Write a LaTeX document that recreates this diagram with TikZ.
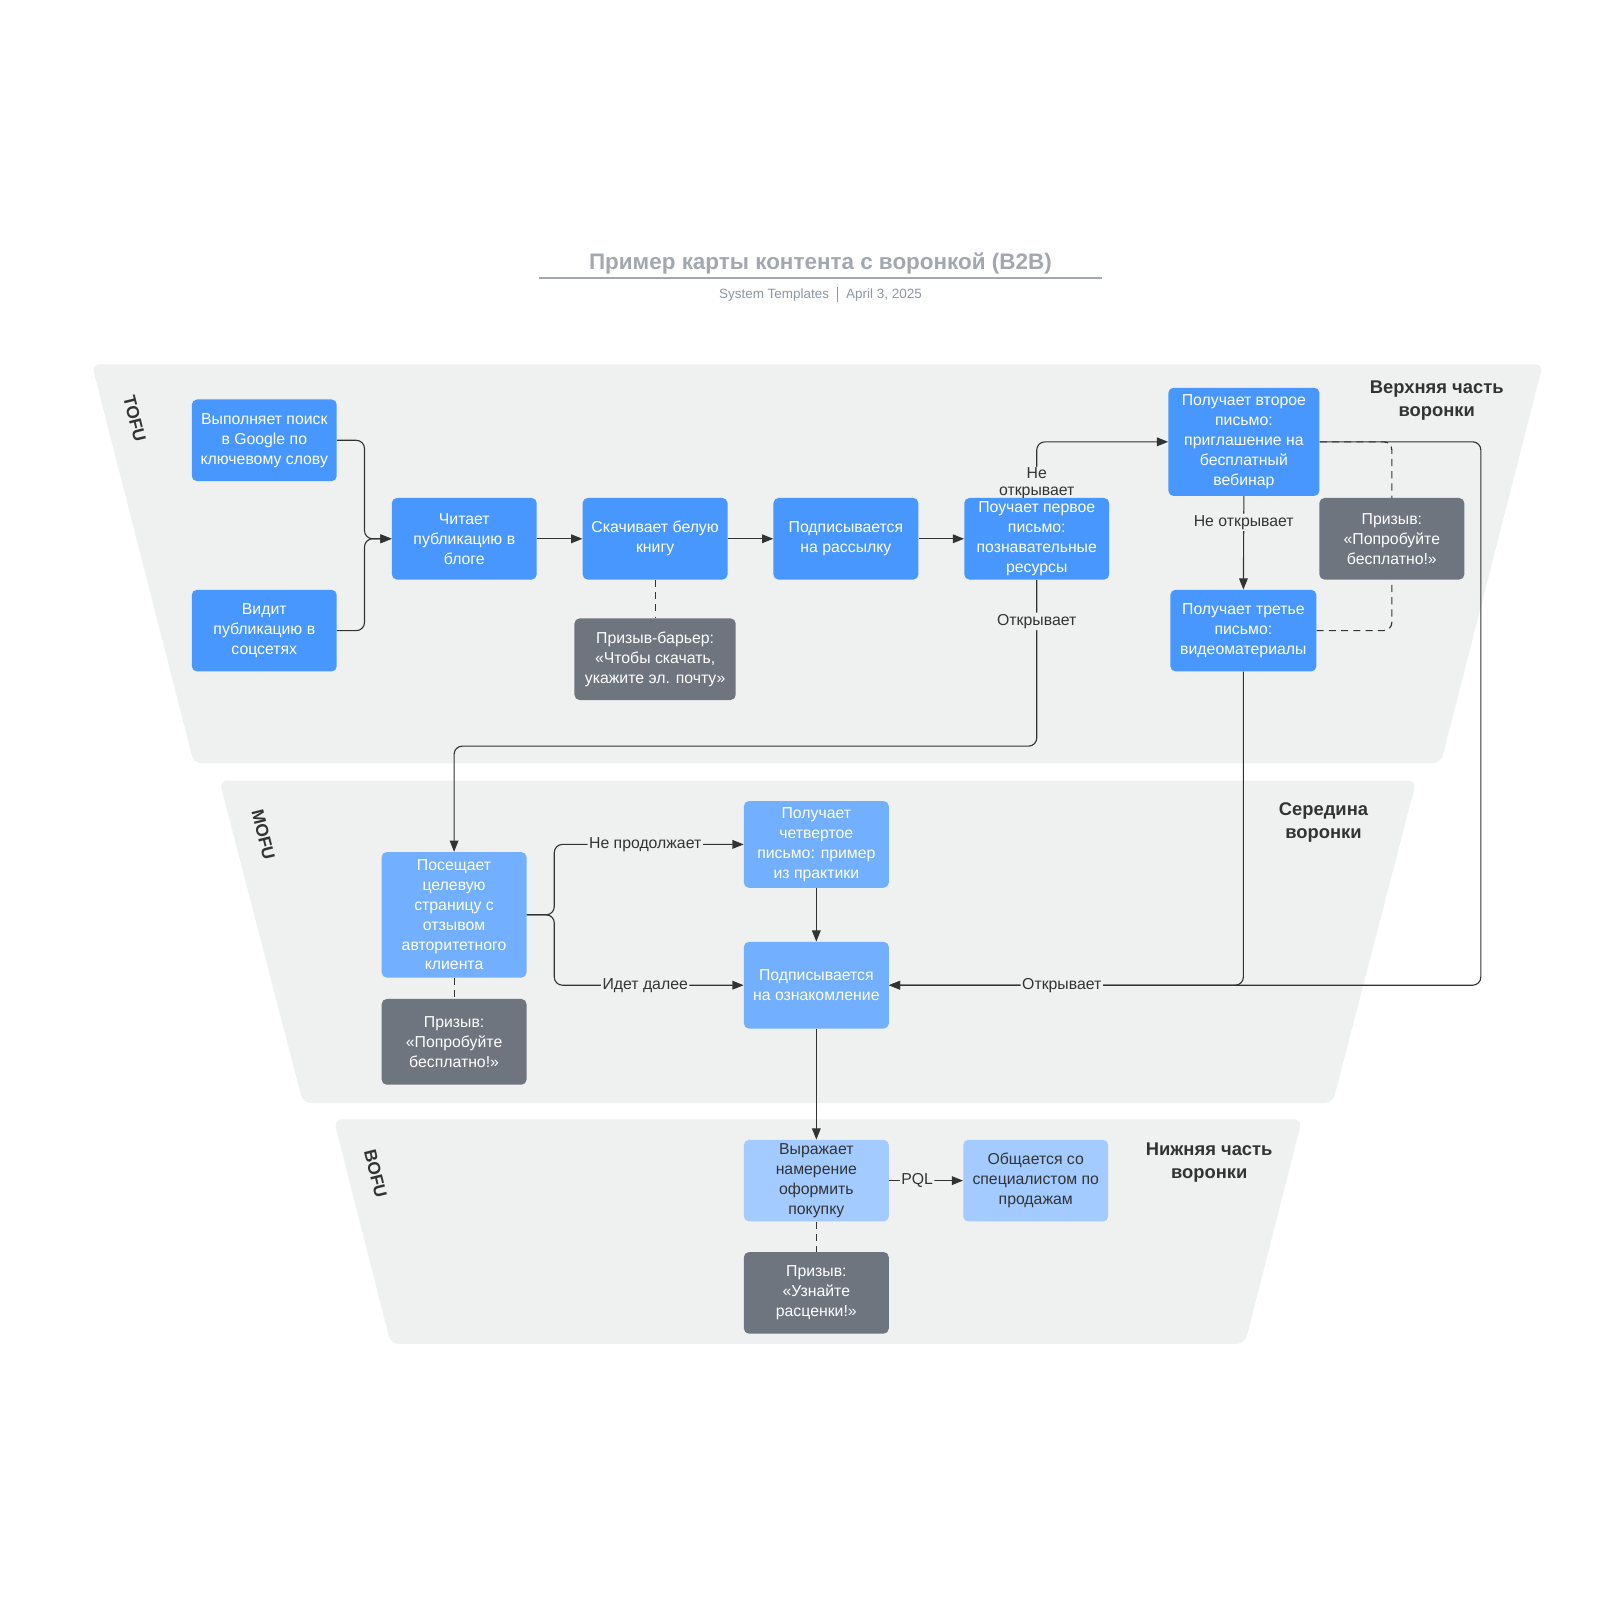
\documentclass[tikz,border=0pt]{standalone}
\usepackage{fontspec}
\setmainfont{Liberation Sans}
\usetikzlibrary{arrows.meta}
\definecolor{panel}{HTML}{EFF0F0}
\definecolor{blueA}{HTML}{4797FF}
\definecolor{blueB}{HTML}{72AFFF}
\definecolor{blueC}{HTML}{A3CBFF}
\definecolor{grayBox}{HTML}{6E757F}
\definecolor{ink}{HTML}{333333}
\definecolor{titlegray}{HTML}{A3A8B0}
\definecolor{subgray}{HTML}{8F97A1}
\pgfdeclarelayer{bg}
\pgfdeclarelayer{edges}
\pgfsetlayers{bg,edges,main}
\begin{document}
\begin{tikzpicture}[x=1pt,y=-1pt,
  box/.style={rounded corners=5pt, minimum width=142pt, minimum height=80pt, inner sep=0pt, align=center, font=\fontsize{15.5}{19.5}\selectfont, text=white},
  boxA/.style={box, fill=blueA},
  boxB/.style={box, fill=blueB},
  boxC/.style={box, fill=blueC, text=ink},
  cta/.style={box, fill=grayBox},
  conn/.style={draw=ink, line width=1.1pt, rounded corners=8pt, -{Triangle[length=11pt,width=8.5pt]}},
  dline/.style={draw=ink, line width=1.1pt, dash pattern=on 7pt off 5pt, rounded corners=8pt},
  lbl/.style={fill=panel, inner sep=1.5pt, text=ink, font=\fontsize{15.5}{17}\selectfont, align=center},
  stage/.style={font=\bfseries\fontsize{18}{22.5}\selectfont, text=ink, align=center},
  tag/.style={font=\bfseries\fontsize{17}{20}\selectfont, text=ink, rotate=-76},
  panelbg/.style={fill=panel, rounded corners=8pt}
]
\begin{pgfonlayer}{bg}
\fill[white] (0,0) rectangle (1568,1568);
\path[panelbg] (90,357) -- (1512,357) -- (1412,748) -- (190,748) -- cycle;
\path[panelbg] (215,765) -- (1388,765) -- (1306,1081) -- (297,1081) -- cycle;
\path[panelbg] (327,1097) -- (1276,1097) -- (1220,1317) -- (383,1317) -- cycle;
\end{pgfonlayer}
\useasboundingbox (0,0) rectangle (1568,1568);

% title
\node[font=\bfseries\fontsize{22}{25}\selectfont, text=titlegray] (title) at (804,258) {Пример карты контента с воронкой (B2B)};
\draw[titlegray, line width=2pt] (528,272) -- (1080,272);
\node[font=\fontsize{13.2}{15}\selectfont, text=subgray] (sub) at (804,288.5) {System Templates\hspace{8pt}\rule[-3pt]{0.7pt}{14pt}\hspace{8pt}April 3, 2025};

\node[tag] (tofu) at (132,410) {TOFU};
\node[tag] (mofu) at (258,818) {MOFU};
\node[tag] (bofu) at (368,1150) {BOFU};

\node[stage] (h1) at (1408,393) {Верхняя часть\\воронки};
\node[stage] (h2) at (1297,806) {Середина\\воронки};
\node[stage] (h3) at (1185,1139) {Нижняя часть\\воронки};

% TOFU boxes
\node[boxA] (b1) at (259,431.5) {Выполняет поиск\\в Google по\\ключевому слову};
\node[boxA] (b2) at (259,618) {Видит\\публикацию в\\соцсетях};
\node[boxA] (b3) at (455,528) {Читает\\публикацию в\\блоге};
\node[boxA] (b4) at (642,528) {\raisebox{3pt}{\begin{tabular}{@{}c@{}}Скачивает белую\\книгу\end{tabular}}};
\node[boxA] (b5) at (829,528) {\raisebox{3pt}{\begin{tabular}{@{}c@{}}Подписывается\\на рассылку\end{tabular}}};
\node[boxA] (b6) at (1016,528) {Поучает первое\\письмо:\\познавательные\\ресурсы};
\node[cta, minimum width=158pt] (g1) at (642,646) {Призыв-барьер:\\«Чтобы скачать,\\укажите эл. почту»};
\node[boxA, minimum width=148pt, minimum height=106pt] (b7) at (1219,433) {Получает второе\\письмо:\\приглашение на\\бесплатный\\вебинар};
\node[boxA, minimum width=143pt] (b8) at (1218.5,618) {Получает третье\\письмо:\\видеоматериалы};
\node[cta] (g2) at (1364,528) {Призыв:\\«Попробуйте\\бесплатно!»};

% MOFU boxes
\node[boxB, minimum height=123pt] (m1) at (445,896.5) {Посещает\\целевую\\страницу с\\отзывом\\авторитетного\\клиента};
\node[cta, minimum height=84pt] (g3) at (445,1021) {Призыв:\\«Попробуйте\\бесплатно!»};
\node[boxB, minimum height=85pt] (m2) at (800,827.5) {Получает\\четвертое\\письмо: пример\\из практики};
\node[boxB, minimum height=85pt] (m3) at (800,965.5) {Подписывается\\на ознакомление};

% BOFU boxes
\node[boxC] (f1) at (800,1157) {Выражает\\намерение\\оформить\\покупку};
\node[boxC] (f2) at (1015,1157) {Общается со\\специалистом по\\продажам};
\node[cta] (g4) at (800,1267) {Призыв:\\«Узнайте\\расценки!»};

\begin{pgfonlayer}{edges}
% connectors TOFU
\draw[conn] (b1.east) -- ++(27,0) |- (b3.west);
\draw[conn] (b2.east) -- ++(27,0) |- (b3.west);
\draw[conn] (b3) -- (b4);
\draw[conn] (b4) -- (b5);
\draw[conn] (b5) -- (b6);
\draw[dline] (b4.south) -- (g1.north);
\draw[conn] (b6.north) |- node[lbl, pos=0.13, inner sep=0.5pt] {Не\\открывает} (b7.west);
\draw[conn] (b6.south) -- node[lbl, pos=0.25] {Открывает} ++(0,163) -| (m1.north);
\draw[conn] (b7.south) -- node[lbl, pos=0.28] {Не открывает} (b8.north);
\draw[dline] (b7.east) -| (g2.north);
\draw[dline] (b8.east) -| (g2.south);
\draw[conn] (b8.south) |- (m3.east);
\draw[conn] (b7.east) -- ++(158,0) |- node[lbl, pos=0.854] {Открывает} (m3.east);

% connectors MOFU
\draw[conn] (m1.east) -- ++(27,0) |- node[lbl, pos=0.74] {Не продолжает} (m2.west);
\draw[conn] (m1.east) -- ++(27,0) |- node[lbl, pos=0.74] {Идет далее} (m3.west);
\draw[dline] (m1.south) -- (g3.north);
\draw[conn] (m2) -- (m3);
\draw[conn] (m3) -- (f1);

% connectors BOFU
\draw[conn] (f1) -- node[lbl, pos=0.38] {PQL} (f2);
\draw[dline] (f1.south) -- (g4.north);
\end{pgfonlayer}
\end{tikzpicture}
\end{document}
